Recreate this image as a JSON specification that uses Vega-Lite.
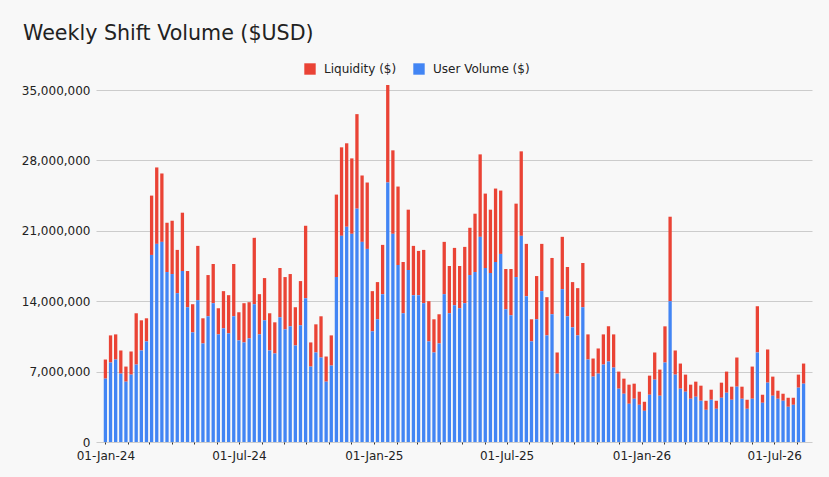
{
  "$schema": "https://vega.github.io/schema/vega-lite/v6.json",
  "description": "Weekly shift volume in USD, stacked user volume and liquidity per week.",
  "width": 716,
  "height": 352,
  "autosize": {"type": "none"},
  "padding": {"left": 96, "top": 90, "right": 17, "bottom": 35},
  "background": "#f8f8f8",
  "title": {
    "text": "Weekly Shift Volume ($USD)",
    "anchor": "start",
    "frame": "group",
    "dx": -73,
    "offset": 18,
    "fontSize": 20.6,
    "font": "DejaVu Sans",
    "fontWeight": "normal",
    "color": "#222222"
  },
  "data": {
    "values": [
      {"week": "2024-01-01", "user": 6300000, "liquidity": 1900000},
      {"week": "2024-01-08", "user": 7900000, "liquidity": 2700000},
      {"week": "2024-01-15", "user": 8200000, "liquidity": 2500000},
      {"week": "2024-01-22", "user": 6800000, "liquidity": 2300000},
      {"week": "2024-01-29", "user": 6000000, "liquidity": 1500000},
      {"week": "2024-02-05", "user": 6700000, "liquidity": 2300000},
      {"week": "2024-02-12", "user": 7700000, "liquidity": 5100000},
      {"week": "2024-02-19", "user": 9100000, "liquidity": 3000000},
      {"week": "2024-02-26", "user": 10000000, "liquidity": 2300000},
      {"week": "2024-03-04", "user": 18600000, "liquidity": 5900000},
      {"week": "2024-03-11", "user": 19700000, "liquidity": 7600000},
      {"week": "2024-03-18", "user": 19900000, "liquidity": 6800000},
      {"week": "2024-03-25", "user": 16900000, "liquidity": 4900000},
      {"week": "2024-04-01", "user": 16700000, "liquidity": 5300000},
      {"week": "2024-04-08", "user": 14800000, "liquidity": 4300000},
      {"week": "2024-04-15", "user": 17000000, "liquidity": 5800000},
      {"week": "2024-04-22", "user": 13400000, "liquidity": 3600000},
      {"week": "2024-04-29", "user": 10900000, "liquidity": 2800000},
      {"week": "2024-05-06", "user": 14100000, "liquidity": 5400000},
      {"week": "2024-05-13", "user": 9800000, "liquidity": 2500000},
      {"week": "2024-05-20", "user": 12500000, "liquidity": 4100000},
      {"week": "2024-05-27", "user": 13800000, "liquidity": 3900000},
      {"week": "2024-06-03", "user": 10700000, "liquidity": 2600000},
      {"week": "2024-06-10", "user": 11300000, "liquidity": 3700000},
      {"week": "2024-06-17", "user": 10800000, "liquidity": 3800000},
      {"week": "2024-06-24", "user": 12500000, "liquidity": 5200000},
      {"week": "2024-07-01", "user": 10100000, "liquidity": 2800000},
      {"week": "2024-07-08", "user": 9900000, "liquidity": 3900000},
      {"week": "2024-07-15", "user": 10300000, "liquidity": 3600000},
      {"week": "2024-07-22", "user": 13700000, "liquidity": 6600000},
      {"week": "2024-07-29", "user": 10700000, "liquidity": 4000000},
      {"week": "2024-08-05", "user": 12100000, "liquidity": 4200000},
      {"week": "2024-08-12", "user": 9100000, "liquidity": 3700000},
      {"week": "2024-08-19", "user": 8800000, "liquidity": 3100000},
      {"week": "2024-08-26", "user": 12400000, "liquidity": 4900000},
      {"week": "2024-09-02", "user": 11200000, "liquidity": 5200000},
      {"week": "2024-09-09", "user": 11500000, "liquidity": 5200000},
      {"week": "2024-09-16", "user": 9600000, "liquidity": 3800000},
      {"week": "2024-09-23", "user": 11600000, "liquidity": 4400000},
      {"week": "2024-09-30", "user": 14300000, "liquidity": 7200000},
      {"week": "2024-10-07", "user": 7500000, "liquidity": 2400000},
      {"week": "2024-10-14", "user": 8900000, "liquidity": 2800000},
      {"week": "2024-10-21", "user": 8400000, "liquidity": 4100000},
      {"week": "2024-10-28", "user": 6000000, "liquidity": 2500000},
      {"week": "2024-11-04", "user": 7600000, "liquidity": 3000000},
      {"week": "2024-11-11", "user": 16400000, "liquidity": 8200000},
      {"week": "2024-11-18", "user": 20500000, "liquidity": 8800000},
      {"week": "2024-11-25", "user": 21400000, "liquidity": 8300000},
      {"week": "2024-12-02", "user": 20700000, "liquidity": 7500000},
      {"week": "2024-12-09", "user": 23200000, "liquidity": 9400000},
      {"week": "2024-12-16", "user": 19900000, "liquidity": 6600000},
      {"week": "2024-12-23", "user": 19200000, "liquidity": 6600000},
      {"week": "2024-12-30", "user": 11000000, "liquidity": 4000000},
      {"week": "2025-01-06", "user": 12200000, "liquidity": 3700000},
      {"week": "2025-01-13", "user": 14700000, "liquidity": 4900000},
      {"week": "2025-01-20", "user": 25800000, "liquidity": 9700000},
      {"week": "2025-01-27", "user": 20700000, "liquidity": 8300000},
      {"week": "2025-02-03", "user": 17600000, "liquidity": 7800000},
      {"week": "2025-02-10", "user": 12800000, "liquidity": 5100000},
      {"week": "2025-02-17", "user": 17100000, "liquidity": 6000000},
      {"week": "2025-02-24", "user": 14600000, "liquidity": 4900000},
      {"week": "2025-03-03", "user": 14600000, "liquidity": 4400000},
      {"week": "2025-03-10", "user": 13800000, "liquidity": 5300000},
      {"week": "2025-03-17", "user": 10000000, "liquidity": 4000000},
      {"week": "2025-03-24", "user": 8900000, "liquidity": 3300000},
      {"week": "2025-03-31", "user": 9800000, "liquidity": 2900000},
      {"week": "2025-04-07", "user": 14700000, "liquidity": 5200000},
      {"week": "2025-04-14", "user": 12800000, "liquidity": 4700000},
      {"week": "2025-04-21", "user": 13600000, "liquidity": 5700000},
      {"week": "2025-04-28", "user": 13300000, "liquidity": 4200000},
      {"week": "2025-05-05", "user": 13800000, "liquidity": 5600000},
      {"week": "2025-05-12", "user": 16600000, "liquidity": 4700000},
      {"week": "2025-05-19", "user": 16900000, "liquidity": 5800000},
      {"week": "2025-05-26", "user": 20400000, "liquidity": 8200000},
      {"week": "2025-06-02", "user": 17300000, "liquidity": 7400000},
      {"week": "2025-06-09", "user": 16800000, "liquidity": 6300000},
      {"week": "2025-06-16", "user": 17900000, "liquidity": 7300000},
      {"week": "2025-06-23", "user": 18700000, "liquidity": 6300000},
      {"week": "2025-06-30", "user": 13200000, "liquidity": 4000000},
      {"week": "2025-07-07", "user": 12600000, "liquidity": 4600000},
      {"week": "2025-07-14", "user": 16400000, "liquidity": 7300000},
      {"week": "2025-07-21", "user": 20500000, "liquidity": 8400000},
      {"week": "2025-07-28", "user": 14500000, "liquidity": 5200000},
      {"week": "2025-08-04", "user": 10000000, "liquidity": 2200000},
      {"week": "2025-08-11", "user": 12200000, "liquidity": 4300000},
      {"week": "2025-08-18", "user": 15000000, "liquidity": 4700000},
      {"week": "2025-08-25", "user": 10600000, "liquidity": 3800000},
      {"week": "2025-09-01", "user": 12700000, "liquidity": 5600000},
      {"week": "2025-09-08", "user": 6800000, "liquidity": 2100000},
      {"week": "2025-09-15", "user": 15200000, "liquidity": 5200000},
      {"week": "2025-09-22", "user": 12500000, "liquidity": 4900000},
      {"week": "2025-09-29", "user": 11400000, "liquidity": 4500000},
      {"week": "2025-10-06", "user": 10600000, "liquidity": 4700000},
      {"week": "2025-10-13", "user": 13400000, "liquidity": 4400000},
      {"week": "2025-10-20", "user": 8200000, "liquidity": 2500000},
      {"week": "2025-10-27", "user": 6500000, "liquidity": 1800000},
      {"week": "2025-11-03", "user": 6800000, "liquidity": 2500000},
      {"week": "2025-11-10", "user": 7700000, "liquidity": 3000000},
      {"week": "2025-11-17", "user": 8000000, "liquidity": 3500000},
      {"week": "2025-11-24", "user": 7400000, "liquidity": 3300000},
      {"week": "2025-12-01", "user": 5300000, "liquidity": 1700000},
      {"week": "2025-12-08", "user": 4800000, "liquidity": 1500000},
      {"week": "2025-12-15", "user": 3800000, "liquidity": 1900000},
      {"week": "2025-12-22", "user": 4300000, "liquidity": 1500000},
      {"week": "2025-12-29", "user": 3700000, "liquidity": 1300000},
      {"week": "2026-01-05", "user": 3100000, "liquidity": 900000},
      {"week": "2026-01-12", "user": 4700000, "liquidity": 1900000},
      {"week": "2026-01-19", "user": 6200000, "liquidity": 2700000},
      {"week": "2026-01-26", "user": 4600000, "liquidity": 2600000},
      {"week": "2026-02-02", "user": 7900000, "liquidity": 3600000},
      {"week": "2026-02-09", "user": 14000000, "liquidity": 8400000},
      {"week": "2026-02-16", "user": 6700000, "liquidity": 2400000},
      {"week": "2026-02-23", "user": 5300000, "liquidity": 2500000},
      {"week": "2026-03-02", "user": 5000000, "liquidity": 1700000},
      {"week": "2026-03-09", "user": 4300000, "liquidity": 1400000},
      {"week": "2026-03-16", "user": 4500000, "liquidity": 1500000},
      {"week": "2026-03-23", "user": 4100000, "liquidity": 1500000},
      {"week": "2026-03-30", "user": 3200000, "liquidity": 900000},
      {"week": "2026-04-06", "user": 4200000, "liquidity": 1000000},
      {"week": "2026-04-13", "user": 3300000, "liquidity": 800000},
      {"week": "2026-04-20", "user": 4400000, "liquidity": 1500000},
      {"week": "2026-04-27", "user": 4900000, "liquidity": 2100000},
      {"week": "2026-05-04", "user": 4200000, "liquidity": 1300000},
      {"week": "2026-05-11", "user": 5500000, "liquidity": 2900000},
      {"week": "2026-05-18", "user": 4300000, "liquidity": 1200000},
      {"week": "2026-05-25", "user": 3300000, "liquidity": 900000},
      {"week": "2026-06-01", "user": 4300000, "liquidity": 3200000},
      {"week": "2026-06-08", "user": 8900000, "liquidity": 4600000},
      {"week": "2026-06-15", "user": 3900000, "liquidity": 800000},
      {"week": "2026-06-22", "user": 5900000, "liquidity": 3300000},
      {"week": "2026-06-29", "user": 4600000, "liquidity": 1900000},
      {"week": "2026-07-06", "user": 4300000, "liquidity": 800000},
      {"week": "2026-07-13", "user": 4100000, "liquidity": 700000},
      {"week": "2026-07-20", "user": 3500000, "liquidity": 900000},
      {"week": "2026-07-27", "user": 3700000, "liquidity": 700000},
      {"week": "2026-08-03", "user": 5400000, "liquidity": 1300000},
      {"week": "2026-08-10", "user": 5800000, "liquidity": 2000000}
    ]
  },
  "transform": [{"fold": ["liquidity", "user"], "as": ["series", "amount"]}],
  "mark": {"type": "bar", "width": 3.3},
  "encoding": {
    "x": {
      "field": "week",
      "type": "temporal",
      "scale": {
        "type": "utc",
        "domain": [
          {"year": 2023, "month": 12, "date": 26, "utc": true},
          {"year": 2026, "month": 8, "date": 14, "hours": 16, "utc": true}
        ]
      },
      "axis": {
        "title": null,
        "grid": false,
        "domain": false,
        "tickCount": {"interval": "month", "step": 1},
        "tickSize": 2,
        "tickColor": "#333333",
        "labelExpr": "utcmonth(datum.value) % 6 == 0 ? utcFormat(datum.value, '%d-%b-%y') : ''",
        "labelOverlap": false,
        "labelFlush": false,
        "labelFontSize": 12,
        "labelColor": "#222222",
        "labelPadding": 6
      }
    },
    "y": {
      "field": "amount",
      "type": "quantitative",
      "stack": "zero",
      "scale": {"domain": [0, 35000000], "nice": false},
      "axis": {
        "title": null,
        "values": [0, 7000000, 14000000, 21000000, 28000000, 35000000],
        "format": ",d",
        "grid": true,
        "gridColor": "#cccccc",
        "domain": false,
        "ticks": false,
        "labelPadding": 6,
        "labelFontSize": 12,
        "labelColor": "#222222"
      }
    },
    "color": {
      "field": "series",
      "type": "nominal",
      "scale": {"domain": ["liquidity", "user"], "range": ["#ea4335", "#4285f4"]},
      "legend": {
        "orient": "none",
        "legendX": 208,
        "legendY": -27,
        "direction": "horizontal",
        "title": null,
        "symbolType": "square",
        "symbolSize": 130,
        "symbolStrokeWidth": 0,
        "labelFontSize": 12,
        "labelColor": "#222222",
        "labelOffset": 8,
        "columnPadding": 16,
        "labelExpr": "datum.value == 'user' ? 'User Volume ($)' : 'Liquidity ($)'"
      }
    },
    "order": {"field": "series", "sort": "descending"}
  },
  "config": {
    "view": {"stroke": null},
    "font": "DejaVu Sans"
  }
}
